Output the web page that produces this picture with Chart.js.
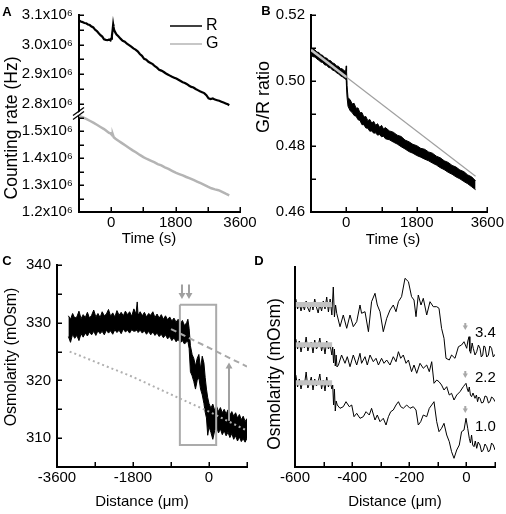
<!DOCTYPE html>
<html><head><meta charset="utf-8">
<script src="https://cdn.jsdelivr.net/npm/chart.js@4.4.1/dist/chart.umd.min.js"></script>
<style>
html,body{margin:0;padding:0;background:#fff;}
#wrap{position:relative;width:506px;height:514px;overflow:hidden;background:#fff;}
canvas{position:absolute;left:0;top:0;}
</style></head><body>
<div id="wrap">
<canvas id="cA" width="506" height="514"></canvas>
<canvas id="cB" width="506" height="514"></canvas>
<canvas id="cC" width="506" height="514"></canvas>
<canvas id="cD" width="506" height="514"></canvas>
</div>
<script>
// ---------- Panel A : counting rates (x10^6 Hz) ----------
const aRt = [-900,-850,-800,-750,-700,-650,-600,-550,-500,-450,-400,-360,-300,-250,-200,-150,-100,-60,-20,0,20,40,55,65,80,110,150,200,260,320,380,440,500,560,620,680,740,800,860,920,980,1040,1100,1160,1220,1280,1340,1400,1460,1520,1580,1640,1700,1760,1820,1880,1940,2000,2060,2120,2180,2240,2300,2360,2420,2480,2540,2600,2660,2720,2780,2840,2900,2960,3020,3080,3140,3200,3260,3300];
const aR  = [3.082,3.078,3.076,3.073,3.072,3.068,3.066,3.061,3.058,3.050,3.046,3.040,3.032,3.027,3.018,3.016,3.015,3.017,3.014,3.020,3.030,3.050,3.068,3.060,3.050,3.042,3.034,3.028,3.020,3.013,3.010,3.003,2.998,2.993,2.987,2.983,2.977,2.968,2.962,2.952,2.949,2.942,2.938,2.934,2.927,2.922,2.915,2.912,2.908,2.903,2.899,2.895,2.891,2.888,2.885,2.881,2.877,2.873,2.870,2.866,2.861,2.857,2.855,2.850,2.846,2.842,2.839,2.836,2.829,2.818,2.816,2.818,2.814,2.812,2.810,2.807,2.804,2.801,2.798,2.795];
const aGt = [-900,-800,-700,-600,-500,-400,-300,-200,-120,-60,-20,0,15,30,45,70,120,200,300,400,500,600,700,800,900,1000,1100,1200,1300,1400,1500,1600,1700,1800,1900,2000,2100,2200,2300,2400,2500,2600,2700,2800,2900,3000,3100,3200,3300];
const aG  = [1.557,1.552,1.546,1.539,1.532,1.524,1.516,1.508,1.500,1.494,1.492,1.489,1.497,1.485,1.488,1.478,1.472,1.465,1.456,1.447,1.438,1.429,1.421,1.412,1.404,1.397,1.391,1.385,1.378,1.373,1.366,1.360,1.353,1.346,1.341,1.336,1.330,1.325,1.319,1.313,1.307,1.301,1.294,1.288,1.284,1.281,1.275,1.268,1.262];
const aSeries = ['R','G'];

// ---------- Panel B : G/R ratio (noise band envelope) ----------
const bT  = [-900,-850,-800,-750,-700,-650,-600,-550,-500,-450,-400,-350,-300,-250,-200,-150,-100,-50,-15,0,8,20,45,100,150,200,250,300,350,400,450,500,550,600,650,700,750,800,850,900,950,1000,1100,1200,1300,1400,1500,1600,1700,1800,1900,2000,2100,2200,2300,2400,2500,2600,2700,2800,2900,3000,3100,3200,3300];
const bHi = [0.5102,0.5095,0.5094,0.5087,0.5086,0.5079,0.5077,0.5070,0.5069,0.5062,0.5061,0.5054,0.5052,0.5045,0.5044,0.5037,0.5036,0.5030,0.5029,0.5045,0.5030,0.4985,0.4948,0.4942,0.4929,0.4931,0.4916,0.4917,0.4902,0.4903,0.4889,0.4891,0.4878,0.4882,0.4871,0.4876,0.4864,0.4869,0.4858,0.4864,0.4853,0.4857,0.4847,0.4843,0.4834,0.4830,0.4819,0.4814,0.4806,0.4802,0.4794,0.4791,0.4783,0.4779,0.4770,0.4765,0.4756,0.4751,0.4742,0.4737,0.4728,0.4723,0.4713,0.4707,0.4695];
const bLo = [0.5078,0.5073,0.5072,0.5066,0.5062,0.5057,0.5055,0.5048,0.5047,0.5040,0.5039,0.5032,0.5030,0.5024,0.5021,0.5015,0.5012,0.5007,0.5005,0.5000,0.4975,0.4950,0.4922,0.4908,0.4903,0.4894,0.4892,0.4881,0.4879,0.4866,0.4866,0.4856,0.4855,0.4846,0.4847,0.4840,0.4841,0.4834,0.4836,0.4829,0.4831,0.4823,0.4820,0.4813,0.4807,0.4799,0.4792,0.4784,0.4779,0.4772,0.4767,0.4761,0.4756,0.4749,0.4743,0.4735,0.4729,0.4721,0.4715,0.4707,0.4701,0.4693,0.4686,0.4677,0.4668];
const bFitT = [-900,0,3300];
const bFit  = [0.5094,0.5011,0.4709];

// ---------- Panel C : osmolarity vs distance (noise band envelope) ----------
const cT  = [-3330,-3280,-3230,-3180,-3130,-3080,-3030,-2980,-2930,-2880,-2830,-2780,-2730,-2680,-2630,-2580,-2530,-2480,-2430,-2380,-2330,-2280,-2230,-2180,-2130,-2080,-2030,-1980,-1930,-1880,-1830,-1780,-1730,-1700,-1680,-1630,-1580,-1530,-1480,-1430,-1380,-1330,-1280,-1230,-1180,-1130,-1080,-1030,-980,-930,-880,-830,-780,-730,-680,-630,-580,-530,-500,
  -470,-440,-400,-360,-320,-280,-240,-200,-160,-120,-90,-60,-30,0,45,90,135,180,225,270,315,360,405,450,495,540,585,630,675,720,765,810,855,900];
const cHi = [331.2,330.6,331.6,330.8,331.0,332.0,330.7,331.4,330.9,331.8,330.8,331.3,332.2,331.0,331.6,330.9,331.9,331.2,331.5,332.3,331.1,331.7,331.0,332.1,331.3,331.8,331.2,332.0,331.4,331.9,331.1,332.4,331.5,333.6,331.3,331.9,331.2,331.8,331.0,331.6,331.3,331.9,330.9,331.5,330.8,331.4,330.6,331.2,330.5,331.0,330.3,330.8,330.1,330.6,329.8,330.4,329.5,330.0,330.6,
  329.0,326.0,324.5,323.8,322.5,323.8,324.5,322.0,324.2,323.0,320.5,318.5,317.0,316.0,315.2,315.9,314.8,315.5,314.6,315.3,314.4,315.0,314.2,314.9,314.0,314.6,313.8,314.4,313.5,314.1,313.2,313.8,312.9,313.4];
const cLo = [327.6,326.6,328.0,327.3,327.8,326.9,328.1,327.5,328.2,327.7,328.4,327.9,328.5,327.8,328.6,328.1,328.5,327.9,328.7,328.2,328.6,328.0,328.8,328.3,328.7,328.1,328.9,328.4,328.7,328.2,328.8,328.5,328.6,328.8,328.3,328.7,328.2,328.6,328.0,328.5,327.9,328.4,327.8,328.2,327.6,328.0,327.4,327.9,327.2,327.6,326.9,327.4,326.7,327.1,326.5,326.9,326.3,326.7,326.8,
  325.5,321.5,320.8,319.8,318.5,320.0,320.5,318.5,317.5,316.0,314.5,313.5,310.5,312.0,311.0,309.8,311.3,311.9,310.9,311.6,310.6,311.3,310.4,311.0,310.1,310.8,309.8,310.4,309.5,310.2,309.4,309.9,309.3,310.0];
const cDashT = [-900,900];
const cDash  = [328.9,322.4];
const cDotT  = [-3300,-1800,-700,0,900];
const cDot   = [325.0,320.6,316.9,314.6,311.3];
const cBoxT  = [-690,170,170,-690,-690];
const cBoxV  = [333.1,333.1,308.8,308.8,333.1];
const cArrX    = [-640,-474,474];
const cArrFrom = [336.6,336.6,313.0];
const cArrTo   = [334.8,334.8,322.4];

// ---------- Panel D : three traces (arbitrary vertical offset units) ----------
const dFlatT = [-597,-591,-585,-579,-573,-567,-561,-555,-549,-543,-537,-531,-525,-519,-513,-507,-501,-495,-489,-483,-477,-471];
const dTopT = dFlatT.concat([-466,-462,-458,-454,-442.5,-431,-419,-407.5,-396,-384,-372.5,-367,-355,-343,-332,-320,-312,-302.5,-291,-279,-267.5,-256,-246.5,-238,-227,-215,-203,-192,-183.5,-176.5,-168.5,-159,-151,-139,-127.5,-116,-104,-96,-87,-78.5,-71.5,-60,-52,-40,-28,-17,-8.5,1,5,9,12,15,20,24,30,36,42,47.5,52,57,61,65,71,77,82,88,94,100]);
const dTop  = [168,158,164,156,163,157,166,159,155,165,157,168,160,154,163,156,166,158,170,155,168,152,180,150,162,153.7,140.3,152,138.7,152,140.3,145.3,162,153.7,155.3,135.3,165.3,173.7,162,155.3,135.3,148.7,157,162,155.3,165.3,170.3,188.7,185.3,170.3,167,150.3,172,162,168.7,152,165.3,160.3,160.3,158.7,138.7,128.7,108.7,107,112,108.7,120.3,122,125.3,118.7,126,130.3,116,113.7,124,118.7,112,115.3,122,118.7,110,112,121,120.3,110,112,121,118.7,110,112.7];
const dMidT = dFlatT.concat([-468,-465,-462,-459,-456,-453,-448,-437,-425,-417,-407.5,-396,-384,-372.5,-367,-355,-347,-337.5,-326,-316.5,-308,-297,-288.5,-279,-267.5,-256,-246.5,-238,-230,-221,-211.5,-203,-192,-183.5,-174,-162.5,-151,-139,-130,-121.5,-113.5,-104,-96,-87,-78.5,-69,-60,-52,-43.5,-34,-22.5,-11,-1.5,3,6.5,10,14,18,23,30,35,39,43,47.5,53,59,65,71,77,82.5,88,94,100]);
const dMid  = [128,118,126,115,124,119,130,116,122,125,114,127,118,121,129,116,124,113,126,118,122,112,120,104,118,101,112,100,102,112,103.7,110.3,100.3,112,102,113.7,103.7,110.3,102,112,105.3,108.7,102,108.7,103.7,107,102,110.3,105.3,115.3,108.7,112,103.7,107,95.3,102,93.7,103.7,98.7,102,95.3,105.3,83.7,87,85.3,82,77,80.3,72,73.7,67,72,75.3,80.3,83.7,78,75.3,80,72,70.3,74,68.7,72,65.3,70,68.7,64,64.7,71,70.3,64,65.3,70,68.7,65.3];
const dBotT = dFlatT.concat([-468,-465,-462,-459,-456,-452,-442.5,-431,-421.5,-410,-401.5,-393.5,-384,-372.5,-361,-351.5,-340,-332,-320,-312,-302.5,-291,-281.5,-273,-265,-256,-246.5,-238,-230,-221,-209,-197.5,-186,-176.5,-168.5,-160,-151,-139,-130,-121.5,-113.5,-104,-96,-87,-78.5,-69,-60,-52,-43.5,-34,-25,-17,-8.5,-1.5,4.5,10,14,18,22,26.5,31,36,41,47.5,53,59,65,71,77,82.5,88,94,100]);
const dBot  = [92,80,88,78,86,82,95,79,84,90,77,88,81,85,93,78,87,76,90,80,86,78,82,62,78,56,66,62,58.7,60.3,65.3,60.3,62,50.3,53.7,48.7,50.3,55.3,52,58.7,47,52,45.3,48.7,42,50.3,55.3,57,62,65.3,60.3,58.7,62,58.7,60.3,57,42,45.3,52,50.3,58.7,62,65.3,45.3,35.3,38.7,43.7,32,25.3,15.3,8.7,17,22,35.3,37,48.7,38.7,28.7,24,32,22,20.3,26,18.7,25,22,15,17,23,20.3,15,17,24,22,17];
const dBarV   = [162.5,122.2,84.2];
const dBarT   = [-597,-470];
const dLabels = ['3.4','2.2','1.0'];
const dLabelV = [134,89,40];
const dLabelT = 30;
const dArrV   = [139,91,56];
const dArrT   = 0;

// ---------- helpers ----------
const FONT = "'Liberation Sans', Arial, Helvetica, sans-serif";
Chart.defaults.font.family = FONT;
Chart.defaults.font.size = 15;
Chart.defaults.color = '#000';
Chart.defaults.animation = false;
Chart.defaults.responsive = false;
Chart.defaults.plugins.legend.display = false;
Chart.defaults.plugins.tooltip.enabled = false;

const P = (xs, ys) => xs.map((x, i) => ({x: x, y: ys[i]}));
function ln(data, color, width, extra) {
  return Object.assign({data: data, borderColor: color, backgroundColor: color, borderWidth: width,
    pointRadius: 0, fill: false, tension: 0, order: 5}, extra || {});
}
function arrowDs(x, y0, y1, color, r, yAxisID) {
  return ln([{x: x, y: y0}, {x: x, y: y1}], color, 2, {
    pointRadius: [0, r], pointStyle: 'triangle', pointRotation: y1 < y0 ? 180 : 0,
    pointBorderWidth: 0, pointBackgroundColor: color, order: 0, yAxisID: yAxisID || 'y'});
}
const gridNo = {drawOnChartArea: false, drawTicks: false};
const border = {display: true, color: '#000', width: 2};
function xAxis(min, max, step, shown, h) {
  return {type: 'linear', position: 'bottom', min: min, max: max, grid: gridNo, border: border,
    ticks: {stepSize: step, autoSkip: false, maxRotation: 0, includeBounds: false, padding: 2, color: '#000',
      callback: v => shown.indexOf(Math.round(v)) >= 0 ? String(Math.round(v)) : ''},
    afterFit: s => { s.height = h; }};
}
function yAxis(min, max, step, fmt, w, extra) {
  return Object.assign({type: 'linear', position: 'left', min: min, max: max, grid: gridNo, border: border,
    ticks: {stepSize: step, autoSkip: false, includeBounds: false, padding: 6, color: '#000', callback: fmt},
    afterFit: s => { s.width = w; }}, extra || {});
}

// decoration plugin: inward tick marks, axis titles, panel letters, legend, axis break, data-anchored labels
const deco = {
  id: 'deco',
  afterDraw(chart, args, o) {
    const ctx = chart.ctx;
    ctx.save();
    (o.inTicks || []).forEach(id => {
      const s = chart.scales[id];
      ctx.strokeStyle = '#000'; ctx.lineWidth = 1.5;
      s.ticks.forEach(t => {
        const p = Math.round(s.getPixelForValue(t.value)) + 0.25;
        ctx.beginPath();
        if (s.isHorizontal()) { ctx.moveTo(p, s.top); ctx.lineTo(p, s.top - 5); }
        else { ctx.moveTo(s.right, p); ctx.lineTo(s.right + 5, p); }
        ctx.stroke();
      });
    });
    (o.texts || []).forEach(t => {
      ctx.save();
      ctx.font = (t.bold ? 'bold ' : '') + (t.size || 15) + 'px ' + FONT;
      ctx.fillStyle = '#000';
      ctx.textAlign = t.align || 'center';
      ctx.textBaseline = 'middle';
      ctx.translate(t.x, t.y);
      if (t.rot) ctx.rotate(t.rot);
      ctx.fillText(t.text, 0, 0);
      ctx.restore();
    });
    if (o.legend) {
      const L = o.legend;
      chart.data.datasets.slice(0, 2).forEach((ds, i) => {
        const y = L.ys[i];
        ctx.strokeStyle = ds.borderColor; ctx.lineWidth = 1.5;
        ctx.beginPath(); ctx.moveTo(L.x1, y); ctx.lineTo(L.x2, y); ctx.stroke();
        ctx.font = '16px ' + FONT; ctx.fillStyle = '#000'; ctx.textAlign = 'left'; ctx.textBaseline = 'middle';
        ctx.fillText(ds.label, L.tx, y);
      });
    }
    if (o.brk) {
      const s = chart.scales.yTop;
      const x = s.right, y = s.bottom;
      ctx.fillStyle = '#fff';
      ctx.beginPath(); ctx.moveTo(x - 6, y + 3); ctx.lineTo(x + 5, y - 5); ctx.lineTo(x + 5, y - 2); ctx.lineTo(x - 6, y + 6); ctx.closePath(); ctx.fill();
      ctx.strokeStyle = '#000'; ctx.lineWidth = 1.3;
      ctx.beginPath(); ctx.moveTo(x - 6, y + 2); ctx.lineTo(x + 5, y - 6); ctx.stroke();
      ctx.beginPath(); ctx.moveTo(x - 6, y + 6); ctx.lineTo(x + 5, y - 2); ctx.stroke();
    }
    if (o.dataTexts) {
      const xs = chart.scales.x, ys = chart.scales.y;
      o.dataTexts.forEach(t => {
        ctx.font = '15px ' + FONT; ctx.fillStyle = '#000'; ctx.textAlign = 'left'; ctx.textBaseline = 'middle';
        ctx.fillText(t.text, xs.getPixelForValue(t.x), ys.getPixelForValue(t.y));
      });
    }
    ctx.restore();
  }
};
Chart.register(deco);
const ROT = -Math.PI / 2;

// ---------- Chart A ----------
new Chart(document.getElementById('cA'), {
  type: 'line',
  data: {datasets: [
    ln(P(aRt, aR), '#000', 2.2, {label: aSeries[0], yAxisID: 'yTop'}),
    ln(P(aGt, aG), '#b4b4b4', 2.5, {label: aSeries[1], yAxisID: 'yBot'})
  ]},
  options: {
    layout: {padding: {left: 0, top: 11, right: 266, bottom: 272}},
    scales: {
      x: xAxis(-900, 3600, 900, [0, 1800, 3600], 30),
      yTop: yAxis(2.767, 3.1, 0.05, v => Math.abs(v * 10 - Math.round(v * 10)) < 1e-6 ? v.toFixed(1) + 'x10\u2076' : '', 79, {stack: 'a', stackWeight: 1, weight: 1}),
      yBot: yAxis(1.2, 1.566, 0.05, v => Math.abs(v * 10 - Math.round(v * 10)) < 1e-6 ? v.toFixed(1) + 'x10\u2076' : '', 79, {stack: 'a', stackWeight: 1, weight: 0})
    },
    plugins: {deco: {
      inTicks: ['x', 'yTop', 'yBot'],
      texts: [
        {text: 'A', x: 7, y: 12, bold: true, size: 13},
        {text: 'Counting rate (Hz)', x: 12, y: 128, rot: ROT, size: 17.5},
        {text: 'Time (s)', x: 149, y: 239}
      ],
      legend: {x1: 170, x2: 202, tx: 206, ys: [26, 44]},
      brk: true
    }}
  }
});

// ---------- Chart B ----------
new Chart(document.getElementById('cB'), {
  type: 'line',
  data: {datasets: [
    ln(P(bFitT, bFit), '#bdbdbd', 2.5, {order: 1, segment: {borderWidth: c => c.p0DataIndex === 0 ? 2.5 : 1.2, borderColor: c => c.p0DataIndex === 0 ? '#c4c4c4' : '#a0a0a0'}}),
    ln(P(bT, bHi), '#000', 1, {fill: '+1', backgroundColor: '#000', order: 5}),
    ln(P(bT, bLo), '#000', 1, {order: 5})
  ]},
  options: {
    layout: {padding: {left: 251, top: 9, right: 17, bottom: 272}},
    scales: {
      x: xAxis(-900, 3600, 900, [0, 1800, 3600], 30),
      y: yAxis(0.46, 0.52, 0.01, v => Math.abs(v * 50 - Math.round(v * 50)) < 1e-6 ? v.toFixed(2) : '', 60)
    },
    plugins: {deco: {
      inTicks: ['x', 'y'],
      texts: [
        {text: 'B', x: 266, y: 11, bold: true, size: 13},
        {text: 'G/R ratio', x: 264, y: 97, rot: ROT, size: 18},
        {text: 'Time (s)', x: 393, y: 240}
      ]}}
  }
});

// ---------- Chart C ----------
const cDatasets = [
  ln(P(cBoxT, cBoxV), '#ababab', 2, {order: 2}),
  ln(P(cDashT, cDash), '#a8a8a8', 2, {borderDash: [6, 4], order: 1}),
  ln(P(cDotT, cDot), '#b0b0b0', 2, {borderDash: [2, 3], order: 1}),
  ln(P(cT, cHi), '#000', 1, {fill: '+1', backgroundColor: '#000', order: 5}),
  ln(P(cT, cLo), '#000', 1, {order: 5})
];
cArrX.forEach((x, i) => cDatasets.push(arrowDs(x, cArrFrom[i], cArrTo[i], '#a0a0a0', 4)));
new Chart(document.getElementById('cC'), {
  type: 'line',
  data: {datasets: cDatasets},
  options: {
    layout: {padding: {left: 0, top: 265, right: 259, bottom: 17}},
    scales: {
      x: xAxis(-3600, 900, 900, [-3600, -1800, 0], 30),
      y: yAxis(305, 340, 5, v => Math.round(v) % 10 === 0 ? String(Math.round(v)) : '', 57)
    },
    plugins: {deco: {
      inTicks: ['x', 'y'],
      texts: [
        {text: 'C', x: 7, y: 261, bold: true, size: 13},
        {text: 'Osmolarity (mOsm)', x: 12, y: 357, rot: ROT, size: 16},
        {text: 'Distance (\u03bcm)', x: 142, y: 502}
      ]}}
  }
});

// ---------- Chart D ----------
const dDatasets = [
  ln(P(dTopT, dTop), '#000', 1, {order: 5}),
  ln(P(dMidT, dMid), '#000', 1, {order: 5}),
  ln(P(dBotT, dBot), '#000', 1, {order: 5})
];
dBarV.forEach(v => dDatasets.push(ln(P(dBarT, [v, v]), '#c2c2c2', 5, {order: 1, borderCapStyle: 'butt'})));
dArrV.forEach(v => dDatasets.push(arrowDs(dArrT - 4, v + 5, v + 1, '#a8a8a8', 3)));
new Chart(document.getElementById('cD'), {
  type: 'line',
  data: {datasets: dDatasets},
  options: {
    layout: {padding: {left: 275, top: 267, right: 11, bottom: 17}},
    scales: {
      x: xAxis(-600, 100, 100, [-600, -400, -200, 0], 30),
      y: {type: 'linear', position: 'left', min: 0, max: 200, grid: gridNo,
        border: border, ticks: {display: false}, afterFit: s => { s.width = 20; }}
    },
    plugins: {deco: {
      inTicks: ['x'],
      texts: [
        {text: 'D', x: 259, y: 261, bold: true, size: 13},
        {text: 'Osmolarity (mOsm)', x: 275, y: 374, rot: ROT, size: 17.5},
        {text: 'Distance (\u03bcm)', x: 395, y: 502}
      ],
      dataTexts: dLabels.map((t, i) => ({text: t, x: dLabelT, y: dLabelV[i]}))
    }}
  }
});
</script>
</body></html>
